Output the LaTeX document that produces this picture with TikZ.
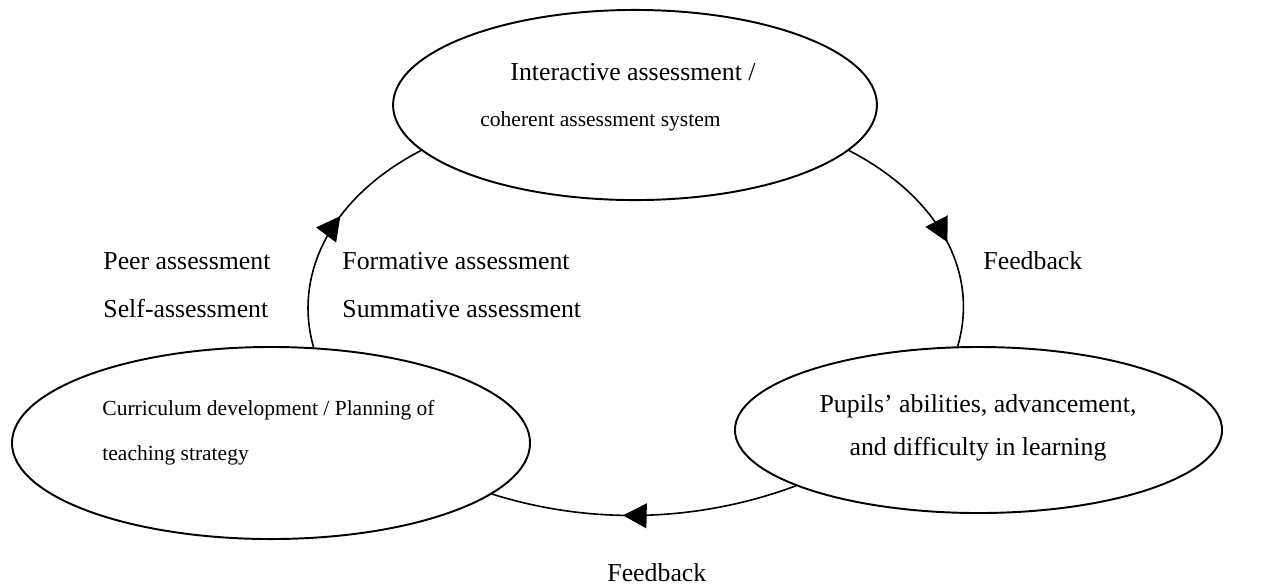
\documentclass[tikz,border=0pt]{standalone}
\usepackage{fontspec}
\setmainfont{Liberation Serif}
\usetikzlibrary{shapes.geometric,arrows.meta,decorations.markings}

\tikzset{
  bubble/.style={draw, ellipse, line width=0.9pt, inner sep=0pt},
  flow/.style={line width=0.75pt, postaction={decorate},
    decoration={markings, mark=at position #1 with {\arrow{Triangle[length=11pt,width=11.5pt]}}}},
  txt/.style={anchor=base west, inner sep=0pt, font=\fontsize{12}{14}\selectfont},
  smalltxt/.style={anchor=base west, inner sep=0pt, font=\fontsize{10}{12}\selectfont}
}

\begin{document}
\begin{tikzpicture}[x=0.465pt, y=0.465pt]
 \useasboundingbox (0,0) rectangle (1284,-585);

 % the three stages
 \node[bubble, minimum width=225pt, minimum height=88.4pt] (assess) at (635,-105) {};
 \node[bubble, minimum width=240.9pt, minimum height=89.3pt] (plan) at (271,-443) {};
 \node[bubble, minimum width=226.5pt, minimum height=77.2pt] (pupils) at (978.5,-430) {};

 \node[txt] (assess1) at (510,-80) {Interactive assessment /};
 \node[smalltxt] (assess2) at (480,-126) {coherent assessment system};
 \node[smalltxt] (plan1) at (102,-415) {Curriculum development / Planning of};
 \node[smalltxt] (plan2) at (102,-460) {teaching strategy};
 \node[txt, anchor=base] (pupils1) at (978,-412) {Pupils’ abilities, advancement,};
 \node[txt, anchor=base] (pupils2) at (978,-455) {and difficulty in learning};

 % the cycle
 \draw[flow=0.56] (assess.-12.9) .. controls +(-27.4:103) and +(73.6:76) .. (pupils.104);
 \draw[flow=0.57] (pupils.197.7) .. controls +(200.4:103) and +(-17.5:105) .. (plan.-13);
 \draw[flow=0.57] (plan.66.9) .. controls +(105.9:75.5) and +(207.4:102.3) .. (assess.192.9);

 \node[txt] (peer) at (103,-269) {Peer assessment};
 \node[txt] (self) at (103,-317) {Self-assessment};
 \node[txt] (form) at (342,-269) {Formative assessment};
 \node[txt] (summ) at (342,-317) {Summative assessment};
 \node[txt] (fb1) at (983,-269) {Feedback};
 \node[txt] (fb2) at (607,-581) {Feedback};
\end{tikzpicture}
\end{document}
